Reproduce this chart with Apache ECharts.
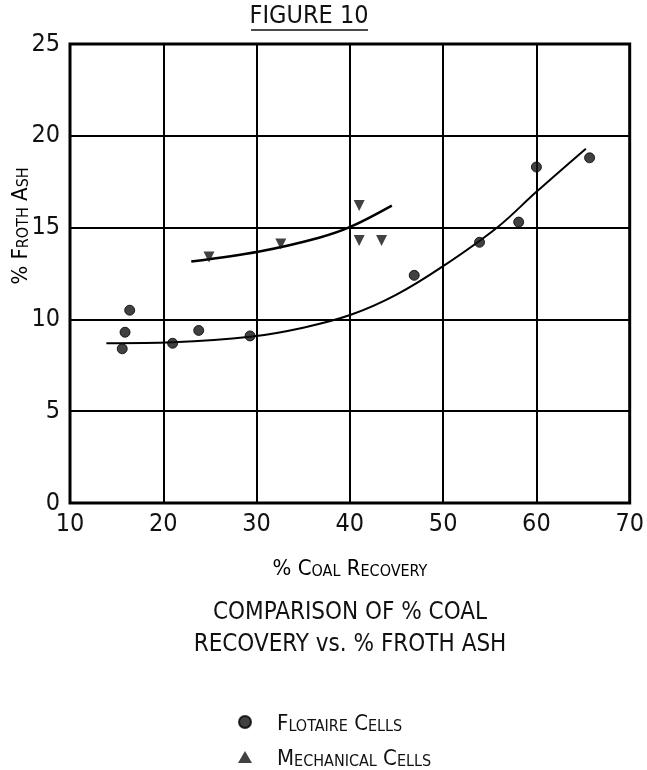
<!DOCTYPE html>
<html><head><meta charset="utf-8">
<script src="https://cdn.jsdelivr.net/npm/echarts@6/dist/echarts.min.js"></script>
<style>html,body{margin:0;padding:0;background:#fff}#c{width:647px;height:770px}</style>
</head><body><div id="c"></div>
<script>
// Flotaire cells (circles)
const flotaireX = [15.6, 15.9, 16.4, 21.0, 23.8, 29.3, 46.9, 53.9, 58.1, 60.0, 65.7];
const flotaireY = [8.4, 9.3, 10.5, 8.7, 9.4, 9.1, 12.4, 14.2, 15.3, 18.3, 18.8];
// Mechanical cells (triangles)
const mechX = [24.9, 32.6, 41.0, 41.0, 43.4];
const mechY = [13.4, 14.1, 16.2, 14.3, 14.3];
// Hand-drawn fitted curves
const flotCurveX = [13.9, 21.0, 29.3, 35.0, 40.1, 45.0, 50.0, 55.9, 60.0, 65.3];
const flotCurveY = [8.7, 8.75, 9.05, 9.55, 10.25, 11.35, 12.9, 15.05, 16.95, 19.3];
const mechCurveX = [23.0, 30.3, 36.7, 40.1, 44.5];
const mechCurveY = [13.15, 13.7, 14.45, 15.05, 16.2];
const xTicks = [10, 20, 30, 40, 50, 60, 70];
const yTicks = [0, 5, 10, 15, 20, 25];

const FONT = "'DejaVu Sans Condensed','Liberation Sans Narrow',sans-serif";
function smallCaps(s){
  let out='', cur=null, buf='';
  for (const ch of s){
    const t = (ch>='a'&&ch<='z') ? 's' : 'b';
    if (t!==cur){ if(buf) out+='{'+cur+'|'+buf+'}'; buf=''; cur=t; }
    buf += t==='s' ? ch.toUpperCase() : ch;
  }
  if (buf) out+='{'+cur+'|'+buf+'}';
  return out;
}
function rich(big, small){
  return {
    b:{fontFamily:FONT,fontSize:big,fontWeight:'normal',color:'#111',verticalAlign:'bottom',lineHeight:big+4},
    s:{fontFamily:FONT,fontSize:small,fontWeight:'normal',color:'#111',verticalAlign:'bottom',lineHeight:big+4}
  };
}
const zip = (a,b)=>a.map((v,i)=>[v,b[i]]);

const legendBase = {orient:'vertical',left:238,itemWidth:14,itemHeight:12,symbolRotate:0,padding:0,
  formatter:n=>smallCaps(n),textStyle:{padding:[0,0,0,20],rich:rich(22,16)}};

const chart = echarts.init(document.getElementById('c'));
chart.setOption({
  backgroundColor:'#fff',
  animation:false,
  grid:{left:70,right:15,top:44,bottom:267,show:true,borderColor:'#000',borderWidth:3,backgroundColor:'transparent'},
  xAxis:{type:'value',min:10,max:70,interval:10,
    axisLine:{show:false},axisTick:{show:false},
    splitLine:{show:true,lineStyle:{color:'#000',width:2}},
    axisLabel:{fontFamily:FONT,fontSize:25,color:'#111',margin:9,
      formatter:v=>xTicks.includes(v)?String(v):''}},
  yAxis:{type:'value',min:0,max:25,interval:5,
    axisLine:{show:false},axisTick:{show:false},
    splitLine:{show:true,lineStyle:{color:'#000',width:2}},
    axisLabel:{fontFamily:FONT,fontSize:25,color:'#111',margin:10,
      formatter:v=>yTicks.includes(v)?String(v):''}},
  legend:[
    Object.assign({},legendBase,{top:713,data:[{name:'Flotaire Cells',icon:'circle'}]}),
    Object.assign({},legendBase,{top:748,data:[{name:'Mechanical Cells',icon:'triangle'}]})
  ],
  graphic:[
    {type:'text',x:309,y:16,style:{text:'FIGURE 10',align:'center',verticalAlign:'middle',
      font:"normal 25px 'DejaVu Sans Condensed',sans-serif",fill:'#111'}},
    {type:'line',shape:{x1:251,y1:30,x2:368,y2:30},style:{stroke:'#111',lineWidth:1.5}},
    {type:'text',x:19,y:226,rotation:Math.PI/2,
      style:{text:smallCaps('% Froth Ash'),align:'center',verticalAlign:'middle',rich:rich(22,16)}},
    {type:'text',x:350,y:567,style:{text:smallCaps('% Coal Recovery'),align:'center',verticalAlign:'middle',rich:rich(22,16)}},
    {type:'text',x:350,y:613,style:{text:'COMPARISON OF % COAL',align:'center',verticalAlign:'middle',
      font:"normal 24px 'DejaVu Sans Condensed',sans-serif",fill:'#111'}},
    {type:'text',x:350,y:645,style:{text:'RECOVERY vs. % FROTH ASH',align:'center',verticalAlign:'middle',
      font:"normal 24px 'DejaVu Sans Condensed',sans-serif",fill:'#111'}}
  ],
  series:[
    {name:'Flotaire curve',type:'line',smooth:0.35,symbol:'none',silent:true,
      lineStyle:{color:'#000',width:2},data:zip(flotCurveX,flotCurveY)},
    {name:'Mechanical curve',type:'line',smooth:0.35,symbol:'none',silent:true,
      lineStyle:{color:'#000',width:2.5},data:zip(mechCurveX,mechCurveY)},
    {name:'Flotaire Cells',type:'scatter',symbol:'circle',symbolSize:10,
      itemStyle:{color:'#111',borderColor:'#000',borderWidth:1},data:zip(flotaireX,flotaireY),z:5},
    {name:'Mechanical Cells',type:'scatter',symbol:'triangle',symbolRotate:180,symbolSize:11,
      itemStyle:{color:'#111'},data:zip(mechX,mechY),z:5}
  ]
});
</script></body></html>
